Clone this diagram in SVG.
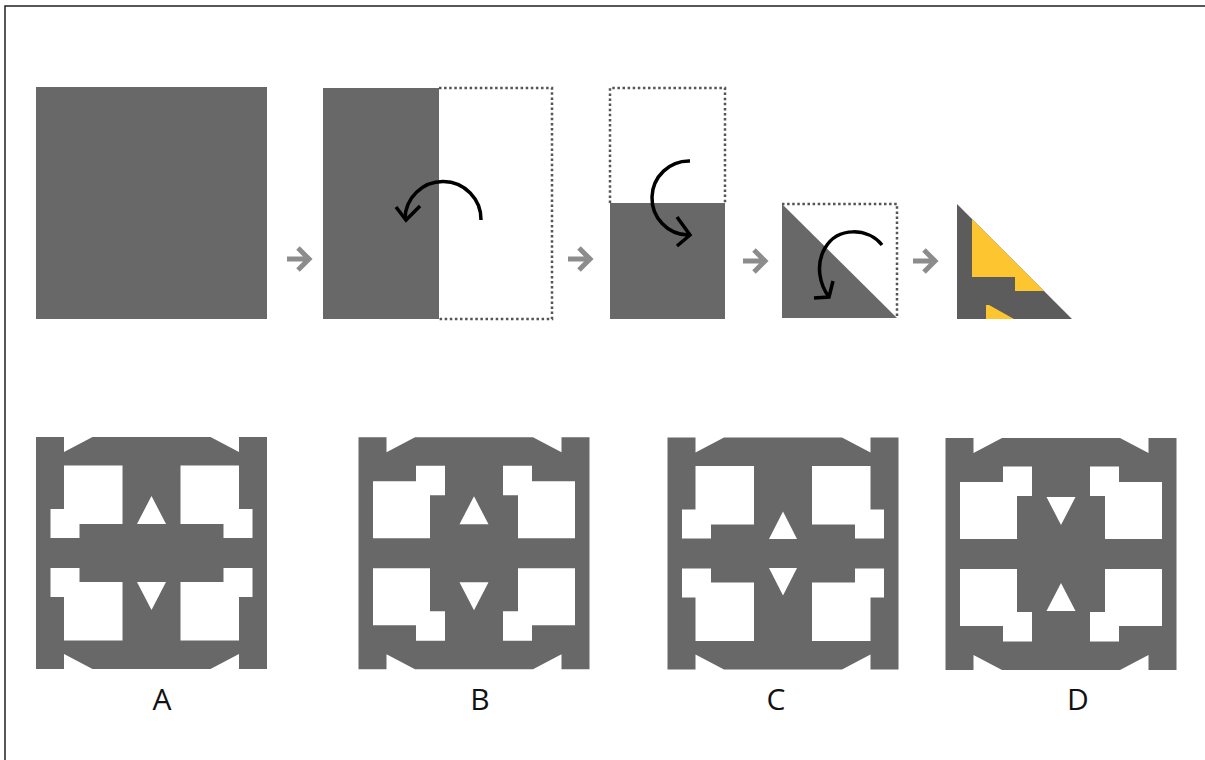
<svg xmlns="http://www.w3.org/2000/svg" xmlns:xlink="http://www.w3.org/1999/xlink" width="1205" height="760" viewBox="0 0 1205 760">
<style>
.g{fill:#686868}
.w{fill:#ffffff}
.dot{fill:none;stroke:#555;stroke-width:2.5;stroke-dasharray:2.5 2.6}
.curl{fill:none;stroke:#000;stroke-width:3.5;stroke-linecap:butt;stroke-linejoin:miter}
.step{fill:none;stroke:#8c8c8c;stroke-width:5}
.lbl{font-family:"Open Sans","Liberation Sans",sans-serif;font-size:30px;fill:#111;text-anchor:middle}
</style>
<defs>
<path id="frame" class="g" d="M-115.5,-116H-87.5V-101L-59,-116H59L87.5,-101V-116H115.5V116H87.5V101L59,116H-59L-87.5,101V116H-115.5Z"/>
<path id="h1" class="w" d="M-87.5,-87.5H-29V-29H-72V-15H-101V-44H-87.5Z"/>
<path id="h2" class="w" d="M-58,-87.5H-29V-58H-44V-15H-101V-72H-58Z"/>
<g id="set1"><use xlink:href="#h1"/><use xlink:href="#h1" transform="scale(-1,1)"/><use xlink:href="#h1" transform="scale(1,-1)"/><use xlink:href="#h1" transform="scale(-1,-1)"/></g>
<g id="set2"><use xlink:href="#h2"/><use xlink:href="#h2" transform="scale(-1,1)"/><use xlink:href="#h2" transform="scale(1,-1)"/><use xlink:href="#h2" transform="scale(-1,-1)"/></g>
</defs>
<rect width="1205" height="760" fill="#fff"/>
<path d="M5,760V6H1205" fill="none" stroke="#222" stroke-width="1.5"/>

<g id="step1"><rect class="g" x="36" y="87" width="231" height="232"/></g>

<g id="step2">
<rect class="g" x="323" y="88" width="116" height="231"/>
<path class="dot" d="M439,88H552V319H439"/>
<path class="curl" d="M481,220A38,38 0 0 0 405,219"/>
<path class="curl" d="M396,207L406,220L420,206"/>
</g>

<g id="step3">
<rect class="g" x="610" y="203" width="115" height="116"/>
<path class="dot" d="M610,203V88H725V203"/>
<path class="curl" d="M690,161A37,37 0 0 0 688,235"/>
<path class="curl" d="M677,217L690,235L677,246"/>
</g>

<g id="step4">
<path class="g" d="M782,204V318H897Z"/>
<path class="dot" d="M782,204H897V318"/>
<path class="curl" d="M882,245C868,228 838,226 825,248C815,265 820,285 829,297"/>
<path class="curl" d="M814,298L829,297L833,281"/>
</g>

<g id="step5">
<path fill="#5c5c5c" d="M957,204V319H1072Z"/>
<path fill="#fdc631" d="M972,219L1044,291H1015V277H972Z"/>
<path fill="#fdc631" d="M986,305H989L1014,319H986Z"/>
</g>

<g id="connectors">
<path class="step" d="M287,259H309M298,248L309,259L298,270"/>
<path class="step" d="M568,259H590M579,248L590,259L579,270"/>
<path class="step" d="M743,261H765M754,250L765,261L754,272"/>
<path class="step" d="M913,261H935M924,250L935,261L924,272"/>
</g>

<g id="optionA" transform="translate(151.5,553)">
<use xlink:href="#frame"/><use xlink:href="#set1"/>
<path class="w" d="M0,-57L14.5,-29H-14.5Z"/>
<path class="w" d="M0,57L14.5,29H-14.5Z"/>
</g>
<g id="optionB" transform="translate(474,553.3)">
<use xlink:href="#frame"/><use xlink:href="#set2"/>
<path class="w" d="M0,-57L14.5,-29H-14.5Z"/>
<path class="w" d="M0,57L14.5,29H-14.5Z"/>
</g>
<g id="optionC" transform="translate(783,553.5)">
<use xlink:href="#frame"/><use xlink:href="#set1"/>
<path class="w" d="M0,-42L14,-14.5H-14Z"/>
<path class="w" d="M0,42L14,14.5H-14Z"/>
</g>
<g id="optionD" transform="translate(1061,554)">
<use xlink:href="#frame"/><use xlink:href="#set2"/>
<path class="w" d="M-14.5,-57H14.5L0,-29Z"/>
<path class="w" d="M0,29L14.5,57H-14.5Z"/>
</g>

<g id="labels">
<text class="lbl" x="162" y="710">A</text>
<text class="lbl" x="480" y="710">B</text>
<text class="lbl" x="776" y="710">C</text>
<text class="lbl" x="1078" y="710">D</text>
</g>
</svg>
